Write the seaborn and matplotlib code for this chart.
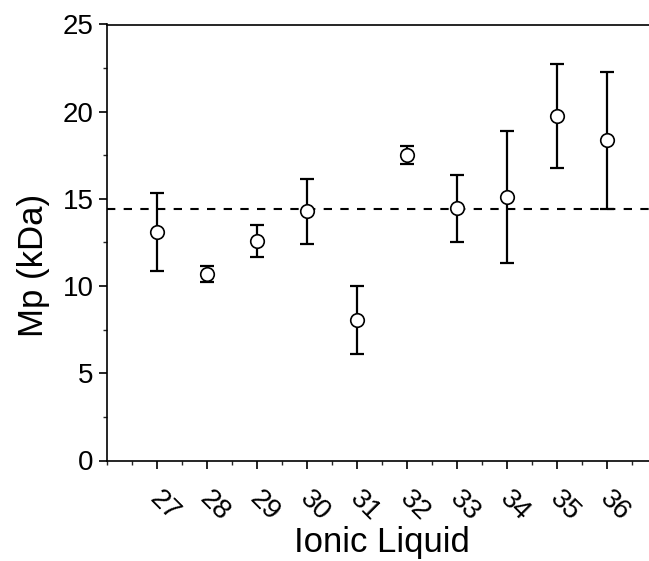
import matplotlib
matplotlib.use("Agg")
import matplotlib.pyplot as plt
import matplotlib.transforms as mtransforms
import seaborn as sns
import numpy as np
import pandas as pd
from matplotlib.ticker import MultipleLocator

liquids = [27, 28, 29, 30, 31, 32, 33, 34, 35, 36]
mp_mean = [13.1, 10.7, 12.6, 14.3, 8.05, 17.5, 14.45, 15.1, 19.75, 18.35]
mp_err = [2.22, 0.45, 0.93, 1.86, 1.97, 0.52, 1.93, 3.8, 3.0, 3.92]
mean_line = 14.4

sns.set_theme(style="ticks")
plt.rcParams['font.family'] = ['Liberation Sans', 'DejaVu Sans']
plt.rcParams['text.color'] = 'black'
plt.rcParams['axes.labelcolor'] = 'black'

df = pd.DataFrame({"Ionic Liquid": liquids, "Mp": mp_mean, "err": mp_err})

fig = plt.figure(figsize=(6.49, 5.61), dpi=100)
ax = fig.add_axes([106.7 / 649, 1 - 460.5 / 561, 550 / 649, 436 / 561])

ax.axhline(mean_line, color="black", linestyle=(0, (4, 4)), linewidth=1.5, zorder=1)
ax.errorbar(df["Ionic Liquid"], df["Mp"], yerr=df["err"], fmt="none",
            ecolor="black", elinewidth=1.6, capsize=4.7, capthick=1.6, zorder=2)
sns.scatterplot(data=df, x="Ionic Liquid", y="Mp", ax=ax, s=95, marker="o",
                facecolor="white", edgecolor="black", linewidth=1.2, zorder=3)

ax.set_xlim(26, 37)
ax.set_ylim(0, 25)
ax.yaxis.set_major_locator(MultipleLocator(5))
ax.yaxis.set_minor_locator(MultipleLocator(2.5))
ax.set_xticks(liquids)
ax.xaxis.set_minor_locator(MultipleLocator(0.5))

ax.tick_params(axis="both", which="major", direction="out", length=6, width=1.2,
               labelsize=20, colors="black")
ax.tick_params(axis="both", which="minor", direction="out", length=3, width=1.0)
ax.tick_params(axis="x", which="major", pad=12)

ax.set_xticklabels([str(v) for v in liquids], rotation=-45, ha="left",
                   va="top", rotation_mode="anchor")
offset = mtransforms.ScaledTranslation(6 / 100, 0, fig.dpi_scale_trans)
for lab in ax.get_xticklabels():
    lab.set_transform(lab.get_transform() + offset)

for side in ["left", "bottom", "top"]:
    ax.spines[side].set_linewidth(1.2)
    ax.spines[side].set_color("black")
ax.spines["right"].set_visible(False)

ax.set_xlabel("Ionic Liquid", fontsize=25, labelpad=0, color="black")
ax.set_ylabel("Mp (kDa)", fontsize=25, color="black")
ax.yaxis.set_label_coords(-0.104, 0.448)

fig.savefig("out.png", dpi=100)
